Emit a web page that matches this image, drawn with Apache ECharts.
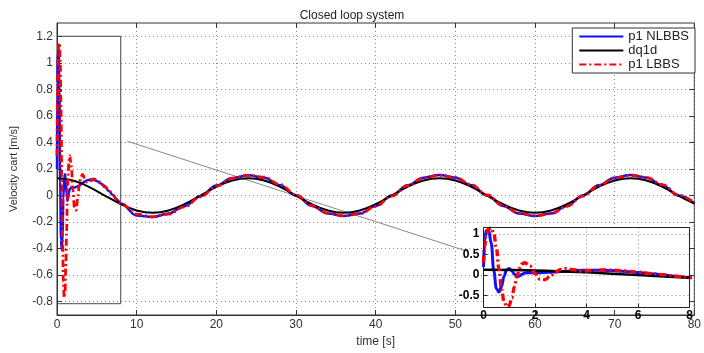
<!DOCTYPE html>
<html>
<head>
<meta charset="utf-8">
<script src="https://cdn.jsdelivr.net/npm/echarts@6/dist/echarts.min.js"></script>
<style>
  html, body { margin: 0; padding: 0; background: #fff; }
  #chart { width: 704px; height: 353px; }
</style>
</head>
<body>
<div id="chart"></div>
<script>
// time samples (s): dense during the transient, every 2 s afterwards
const tFast = [0, 0.05, 0.1, 0.2, 0.3, 0.4, 0.5, 0.6, 0.7, 0.8, 0.9, 1.0, 1.1, 1.2, 1.3, 1.4, 1.5, 1.6, 1.8, 2.0,
  2.2, 2.4, 2.6, 2.8, 3.0, 3.2, 3.5, 3.8, 4.2, 4.6, 5, 5.5, 6, 6.5, 7, 7.5];
const tSlow = [8, 10, 12, 14, 16, 18, 20, 22, 24, 26, 28, 30, 32, 34, 36, 38, 40, 42, 44, 46, 48, 50,
  52, 54, 56, 58, 60, 62, 64, 66, 68, 70, 72, 74, 76, 78, 80];

// p1 NLBBS (blue)
const nlbbsFast = [0.2, 0.85, 1.08, 1.1, 0.78, 0.1, -0.33, -0.41, -0.28, -0.02, 0.13, 0.16, 0.11, 0.02, -0.04, -0.02,
  0.02, 0.05, 0.06, 0.06, 0.06, 0.065, 0.07, 0.075, 0.085, 0.095, 0.105, 0.115, 0.12, 0.118, 0.11, 0.09, 0.065, 0.035, 0.005, -0.03];
const nlbbsSlow = [-0.06, -0.15, -0.162, -0.135, -0.08, -0.005, 0.075, 0.132, 0.153, 0.135, 0.078, 0.0, -0.078, -0.135,
  -0.155, -0.135, -0.078, 0.0, 0.078, 0.135, 0.155, 0.135, 0.078, 0.0, -0.078, -0.135, -0.155, -0.135, -0.078, 0.0,
  0.078, 0.135, 0.155, 0.135, 0.078, 0.0, -0.06];

// p1 LBBS (red)
const lbbsFast = [0.3, 0.7, 0.95, 1.13, 1.15, 1.02, 0.65, 0.15, -0.35, -0.65, -0.77, -0.74, -0.55, -0.28, -0.02, 0.17,
  0.27, 0.3, 0.22, 0.04, -0.1, -0.11, -0.02, 0.08, 0.14, 0.16, 0.13, 0.1, 0.11, 0.125, 0.12, 0.1, 0.07, 0.04, 0.005, -0.03];
const lbbsSlow = [-0.06, -0.14, -0.16, -0.14, -0.085, -0.01, 0.07, 0.13, 0.152, 0.138, 0.082, 0.005, -0.075, -0.133,
  -0.153, -0.137, -0.082, -0.005, 0.075, 0.133, 0.153, 0.137, 0.082, 0.004, -0.075, -0.133, -0.153, -0.137, -0.082,
  -0.004, 0.075, 0.133, 0.153, 0.137, 0.082, 0.004, -0.055];

// dq1d (black reference)
const dqT = [0, 2, 4, 6, 8, 10, 12, 14, 16, 18, 20, 22, 24, 26, 28, 30, 32, 34, 36, 38, 40, 42, 44, 46, 48, 50,
  52, 54, 56, 58, 60, 62, 64, 66, 68, 70, 72, 74, 76, 78, 80];
const dqV = [0.13, 0.113, 0.066, 0.0, -0.064, -0.112, -0.13, -0.113, -0.065, 0, 0.065, 0.113, 0.13, 0.113, 0.065, 0,
  -0.065, -0.113, -0.13, -0.113, -0.065, 0, 0.065, 0.113, 0.13, 0.113, 0.065, 0, -0.065, -0.113, -0.13, -0.113,
  -0.065, 0, 0.065, 0.113, 0.13, 0.113, 0.065, 0, -0.06];

const yTicks = [-0.8, -0.6, -0.4, -0.2, 0, 0.2, 0.4, 0.6, 0.8, 1, 1.2];
const insetYTicks = [-0.5, 0, 0.5, 1];
// zoom box and connector, in main-axes data units
const zoomBox = [[0, 1.2], [8, 1.2], [8, -0.815], [0, -0.815]];
const connector = [[8.8, 0.41], [51.5, -0.42]];

const names = ['p1 NLBBS', 'dq1d', 'p1 LBBS'];
const FONT = '"Liberation Sans", Arial, sans-serif';

const tAll = tFast.concat(tSlow);
const pair = (ts, vs) => ts.map((t, i) => [t, vs[i]]);
const nlbbs = pair(tAll, nlbbsFast.concat(nlbbsSlow));
const lbbs = pair(tAll, lbbsFast.concat(lbbsSlow));
const dq1d = pair(dqT, dqV);

const chart = echarts.init(document.getElementById('chart'));

const dotted = { show: true, lineStyle: { type: [1, 3], color: '#888', width: 1 } };

function curves(xi, yi, z, scale) {
  return [
    {
      name: names[0], type: 'line', xAxisIndex: xi, yAxisIndex: yi, z,
      data: nlbbs, symbol: 'none', smooth: 0.4, smoothMonotone: 'x',
      lineStyle: { color: '#1010ff', width: 2.5 * scale }, itemStyle: { color: '#1010ff' },
    },
    {
      name: names[1], type: 'line', xAxisIndex: xi, yAxisIndex: yi, z,
      data: dq1d, symbol: 'none', smooth: 0.4,
      lineStyle: { color: '#000', width: 2 * scale }, itemStyle: { color: '#000' },
    },
    {
      name: names[2], type: 'line', xAxisIndex: xi, yAxisIndex: yi, z,
      data: lbbs, symbol: 'none', smooth: 0.4, smoothMonotone: 'x',
      lineStyle: { color: '#ff0000', width: 2.8 * scale, type: [7, 3, 2, 3] }, itemStyle: { color: '#ff0000' },
    },
  ];
}

chart.setOption({
  animation: false,
  backgroundColor: '#fff',
  textStyle: { fontFamily: FONT },
  title: {
    text: 'Closed loop system', left: 'center', top: 5,
    textStyle: { fontSize: 12, fontWeight: 'normal', color: '#222', fontFamily: FONT },
  },
  legend: {
    data: names, orient: 'vertical', right: 9, top: 28,
    padding: [2, 6, 2, 6], itemGap: 1, itemWidth: 44, itemHeight: 13,
    borderColor: '#333', borderWidth: 1, backgroundColor: '#fff', borderRadius: 0,
    itemStyle: { opacity: 0 },
    textStyle: { fontSize: 13, color: '#222', fontFamily: FONT },
  },
  grid: [
    { left: 57, top: 23, right: 4, bottom: 33, show: true, borderColor: '#333', borderWidth: 1 },
    { left: 483.5, top: 227.5, width: 206, height: 80 },
  ],
  xAxis: [
    {
      gridIndex: 0, type: 'value', min: 0, max: 80, interval: 10,
      name: 'time [s]', nameLocation: 'middle', nameGap: 21,
      nameTextStyle: { fontSize: 12, color: '#333', fontFamily: FONT },
      axisLine: { onZero: false, lineStyle: { color: '#333' } },
      axisTick: { inside: true, length: 5, lineStyle: { color: '#333' } },
      axisLabel: { fontSize: 12, color: '#333', margin: 4 },
      splitLine: dotted,
    },
    {
      gridIndex: 0, type: 'value', min: 0, max: 80, interval: 10, position: 'top',
      axisLine: { show: false, onZero: false }, axisTick: { inside: true, length: 5, lineStyle: { color: '#333' } },
      axisLabel: { show: false }, splitLine: { show: false },
    },
    {
      gridIndex: 1, type: 'value', min: 0, max: 8, interval: 2, z: 4,
      axisLine: { show: false, onZero: false },
      axisTick: { inside: true, length: 4, lineStyle: { color: '#222' } },
      axisLabel: { fontSize: 12, fontWeight: 'bold', color: '#000', margin: 2 },
      splitLine: dotted,
    },
  ],
  yAxis: [
    {
      gridIndex: 0, type: 'value', min: -0.9, max: 1.3,
      name: 'Velocity cart [m/s]', nameLocation: 'middle', nameGap: 38,
      nameTextStyle: { fontSize: 11, color: '#333', fontFamily: FONT },
      axisLine: { onZero: false, lineStyle: { color: '#333' } },
      axisTick: { inside: true, length: 5, customValues: yTicks, lineStyle: { color: '#333' } },
      axisLabel: { fontSize: 12, color: '#333', margin: 4, customValues: yTicks },
      splitLine: dotted,
    },
    {
      gridIndex: 0, type: 'value', min: -0.9, max: 1.3, position: 'right',
      axisLine: { show: false, onZero: false },
      axisTick: { inside: true, length: 5, customValues: yTicks, lineStyle: { color: '#333' } },
      axisLabel: { show: false }, splitLine: { show: false },
    },
    {
      gridIndex: 1, type: 'value', min: -0.79, max: 1.16, z: 4,
      axisLine: { show: false, onZero: false },
      axisTick: { inside: true, length: 4, customValues: insetYTicks, lineStyle: { color: '#222' } },
      axisLabel: { fontSize: 12, fontWeight: 'bold', color: '#000', margin: 4, customValues: insetYTicks },
      splitLine: dotted,
    },
  ],
  graphic: [
    { type: 'rect', z: 3, silent: true, shape: { x: 483.5, y: 227.5, width: 206, height: 80 }, style: { fill: '#fff' } },
    { type: 'rect', z: 10, silent: true, shape: { x: 483.5, y: 227.5, width: 206, height: 80 },
      style: { fill: 'none', stroke: '#222', lineWidth: 1 } },
  ],
  series: [
    {
      type: 'line', name: 'zoom', data: zoomBox, symbol: 'none', silent: true, z: 1,
      lineStyle: { color: '#444', width: 1 },
    },
    {
      type: 'line', name: 'link', data: connector, symbol: 'none', silent: true, z: 1,
      lineStyle: { color: '#888', width: 1 },
    },
    ...curves(0, 0, 2, 1),
    ...curves(2, 2, 5, 1.2),
  ],
});
</script>
</body>
</html>
